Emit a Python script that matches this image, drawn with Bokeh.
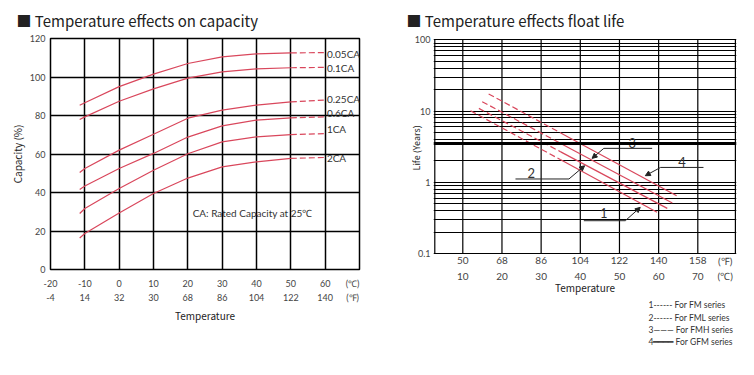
from bokeh.plotting import figure
from bokeh.models import (LinearAxis, LogAxis, FixedTicker, Span, Arrow, NormalHead,
                          Range1d, Title)
from bokeh.layouts import row
from bokeh.embed import file_html
from bokeh.resources import INLINE
from bokeh.core.properties import value

# ---------------- left chart: temperature effects on capacity ----------------
cap_temp_c = [-11.5, -10, 0, 10, 20, 30, 40, 50, 60]
cap_rates = ["0.05CA", "0.1CA", "0.25CA", "0.6CA", "1CA", "2CA"]
cap_005ca = [85.3, 86.6, 95.0, 101.5, 107.0, 110.5, 112.0, 112.5, 112.7]
cap_01ca = [77.9, 79.3, 87.4, 93.8, 99.4, 102.7, 104.2, 104.8, 105.0]
cap_025ca = [50.4, 52.5, 62.0, 70.3, 78.6, 82.8, 85.4, 87.1, 88.0]
cap_06ca = [41.6, 43.4, 52.5, 60.3, 68.8, 74.6, 77.6, 78.8, 79.3]
cap_1ca = [29.1, 31.7, 42.1, 51.6, 60.1, 66.3, 68.9, 70.1, 70.6]
cap_2ca = [16.4, 18.7, 29.4, 39.5, 47.5, 53.3, 55.9, 57.7, 58.2]
cap_label_y = [112.2, 104.7, 88.8, 81.4, 73.2, 57.7]
cap_c_ticks = [-20, -10, 0, 10, 20, 30, 40, 50, 60]
cap_c_labels = ["-20", "-10", "0", "10", "20", "30", "40", "50", "60"]
cap_f_labels = ["-4", "14", "32", "30", "68", "86", "104", "122", "140"]
cap_unit_tick = 68
cap_y_ticks = [0, 20, 40, 60, 80, 100, 120]
cap_note = "CA: Rated Capacity at 25℃"

# ---------------- right chart: temperature effects on float life ----------------
life_c_ticks = [10, 20, 30, 40, 50, 60, 70]
life_c_labels = ["10", "20", "30", "40", "50", "60", "70"]
life_f_labels = ["50", "68", "86", "104", "122", "140", "158"]
life_unit_tick = 77
life_box_t = [2.85, 79.6]          # left / right edge of the chart box (deg C)
life_box_life = [0.1, 100]         # bottom / top of the chart box (years)
life_y_ticks = [0.1, 1, 10, 100]
life_y_labels = ["0.1", "1", "10", "100"]
life_minor = [0.2, 0.3, 0.4, 0.5, 0.6, 0.7, 0.8, 0.9,
              2, 4, 5, 6, 7, 8, 9,
              20, 30, 40, 50, 60, 70, 80, 90]
life_ref_line = 3.5

# each series: start of dashed part, end of dashed part, end of solid part
fm_temp = [11.97, 35, 59.6]
fm_life = [10.1, 2.07, 0.38]
fml_temp = [14.1, 35, 62.2]
fml_life = [10.9, 2.68, 0.432]
fmh_temp = [14.95, 35, 63.5]
fmh_life = [13.55, 3.51, 0.514]
gfm_temp = [16.6, 35, 64.6]
gfm_life = [17.4, 4.93, 0.651]

callout_text = ["1", "2", "3", "4"]
callout_text_t = [46.0, 27.5, 53.3, 66.0]
callout_text_life = [0.367, 1.355, 3.57, 1.91]
callout_bar_t0 = [40.9, 23.45, 46.0, 60.5]
callout_bar_t1 = [51.5, 37.1, 58.35, 71.45]
callout_bar_life = [0.29, 1.116, 3.0, 1.62]
callout_elbow_t = [51.5, 37.1, 46.0, 60.5]
callout_tip_t = [55.3, 41.1, 43.0, 56.6]
callout_tip_life = [0.446, 1.71, 2.17, 1.24]

legend_lines = ["1------ For FM  series", "2------ For FML series",
                "3——— For FMH series", "4━━━━ For GFM series"]

FONT = "Lato"
HEAD_FONT = "Noto Sans CJK SC"
TICK = "#444444"
RED = "#d9475c"


def style_axis(ax, standoff, size="9px"):
    ax.axis_line_color = None
    ax.major_tick_line_color = None
    ax.minor_tick_line_color = None
    ax.major_tick_out = 0
    ax.major_tick_in = 0
    ax.major_label_standoff = standoff
    ax.major_label_text_font = FONT
    ax.major_label_text_font_size = size
    ax.major_label_text_color = TICK
    ax.axis_label_text_font = HEAD_FONT
    ax.axis_label_text_font_style = "normal"
    ax.axis_label_text_font_size = "10px"
    ax.axis_label_text_color = "#222222"


def style_title(t, size, standoff, offset, align="left", font=FONT):
    t.text_font = font
    t.text_font_style = "normal"
    t.text_font_size = size
    t.text_color = "#222222"
    t.standoff = standoff
    t.offset = offset
    t.align = align


# ======================= left figure =======================
p1 = figure(width=380, height=375, x_range=Range1d(-20, 70), y_range=Range1d(0, 120),
            x_axis_location=None, y_axis_location=None, toolbar_location=None,
            output_backend="svg", min_border_left=50, min_border_right=21,
            min_border_top=38, min_border_bottom=106)
p1.outline_line_color = "black"
p1.outline_line_width = 1.5
p1.xgrid.ticker = FixedTicker(ticks=cap_c_ticks[1:])
p1.ygrid.ticker = FixedTicker(ticks=cap_y_ticks[1:-1])
for g in (p1.xgrid, p1.ygrid):
    g.grid_line_color = "black"
    g.grid_line_width = 1.5
    g.grid_line_alpha = 1.0

p1.title.text = "■ Temperature effects on capacity"
style_title(p1.title, "15px", 15, -34, font=HEAD_FONT)

ax_c = LinearAxis(ticker=FixedTicker(ticks=cap_c_ticks + [cap_unit_tick]),
                  major_label_overrides={**dict(zip(cap_c_ticks, cap_c_labels)), cap_unit_tick: "(℃)"})
style_axis(ax_c, 8)
p1.add_layout(ax_c, "below")
ax_f = LinearAxis(ticker=FixedTicker(ticks=cap_c_ticks + [cap_unit_tick]),
                  major_label_overrides={**dict(zip(cap_c_ticks, cap_f_labels)), cap_unit_tick: "(℉)"},
                  axis_label="Temperature")
style_axis(ax_f, 0)
ax_f.axis_label_standoff = 2
p1.add_layout(ax_f, "below")
ax_y = LinearAxis(ticker=FixedTicker(ticks=cap_y_ticks),
                  major_label_overrides={t: str(t) for t in cap_y_ticks},
                  axis_label="Capacity (%)")
style_axis(ax_y, 5)
ax_y.axis_label_standoff = 2
p1.add_layout(ax_y, "left")

for vals in (cap_005ca, cap_01ca, cap_025ca, cap_06ca, cap_1ca, cap_2ca):
    p1.line(cap_temp_c[:-1], vals[:-1], line_color=RED, line_width=1.2)
    p1.line(cap_temp_c[-2:], vals[-2:], line_color=RED, line_width=1.2, line_dash="6 3")

p1.text(x=[60.5] * len(cap_rates), y=cap_label_y, text=cap_rates,
        text_font=value(FONT), text_font_size="10px", text_color="#333333",
        text_baseline="middle", text_align="left")
p1.text(x=[21.4], y=[29.2], text=[cap_note], text_font=value(FONT),
        text_font_size="10px", text_color="#333333", text_baseline="middle")

# ======================= right figure =======================
# frame shares the left chart's vertical extent; the log box itself is drawn inside it
p2 = figure(width=374, height=375, x_range=Range1d(2.52, 79.88),
            y_range=Range1d(0.05998, 104.2), y_axis_type="log",
            x_axis_location=None, y_axis_location=None,
            toolbar_location=None, output_backend="svg", min_border_left=53,
            min_border_right=18, min_border_top=38, min_border_bottom=106)
p2.outline_line_color = None
p2.xgrid.visible = False
p2.ygrid.ticker = FixedTicker(ticks=life_y_ticks, minor_ticks=life_minor)
p2.ygrid.grid_line_color = "black"
p2.ygrid.grid_line_width = 1.2
p2.ygrid.grid_line_alpha = 1.0
p2.ygrid.minor_grid_line_color = "black"
p2.ygrid.minor_grid_line_width = 1.2

vx = [life_box_t[0]] + life_c_ticks + [life_box_t[1]]
p2.segment(x0=vx, y0=[life_box_life[0]] * len(vx), x1=vx, y1=[life_box_life[1]] * len(vx),
           line_color="black", line_width=1.2)

p2.title.text = "■ Temperature effects float life"
style_title(p2.title, "15px", 15, -27, font=HEAD_FONT)

# deg F row sits just under the box, inside the frame
p2.text(x=life_c_ticks + [life_unit_tick], y=[0.0798] * (len(life_c_ticks) + 1),
        text=life_f_labels + ["(℉)"], text_font=value(FONT), text_font_size="10px",
        text_color=TICK, text_align="center", text_baseline="middle")

ax2_c = LinearAxis(ticker=FixedTicker(ticks=life_c_ticks + [life_unit_tick]),
                   major_label_overrides={**dict(zip(life_c_ticks, life_c_labels)), life_unit_tick: "(℃)"},
                   axis_label="Temperature")
style_axis(ax2_c, 0, "10px")
ax2_c.axis_label_standoff = -5
p2.add_layout(ax2_c, "below")
ax2_y = LogAxis(ticker=FixedTicker(ticks=life_y_ticks),
                major_label_overrides=dict(zip(life_y_ticks, life_y_labels)))
style_axis(ax2_y, 3, "9px")
p2.add_layout(ax2_y, "left")

ylab = Title(text="Life (Years)")
style_title(ylab, "9px", -22, 99, "left", font=HEAD_FONT)
p2.add_layout(ylab, "left")

for i, line in enumerate(legend_lines):
    lt = Title(text=line)
    style_title(lt, "8.5px", 1 if i == 0 else 0, 215)
    lt.text_color = "#333333"
    p2.add_layout(lt, "below")

p2.add_layout(Span(location=life_ref_line, dimension="width", line_color="black", line_width=3))

for t, l in ((fm_temp, fm_life), (fml_temp, fml_life), (fmh_temp, fmh_life), (gfm_temp, gfm_life)):
    p2.line(t[:2], l[:2], line_color=RED, line_width=1.2, line_dash="6 3")
    p2.line(t[1:], l[1:], line_color=RED, line_width=1.2)

p2.segment(x0=callout_bar_t0, y0=callout_bar_life, x1=callout_bar_t1, y1=callout_bar_life,
           line_color="#222222", line_width=1)
for i in range(len(callout_text)):
    p2.add_layout(Arrow(end=NormalHead(size=5, fill_color="#222222", line_color="#222222"),
                        x_start=callout_elbow_t[i], y_start=callout_bar_life[i],
                        x_end=callout_tip_t[i], y_end=callout_tip_life[i],
                        line_color="#222222", line_width=1))
p2.text(x=callout_text_t, y=callout_text_life, text=callout_text, text_font=value(FONT),
        text_font_size="13px", text_color="#333333", text_align="center",
        text_baseline="middle")

layout = row(p1, p2)
open("out.html", "w").write(file_html(layout, INLINE))
